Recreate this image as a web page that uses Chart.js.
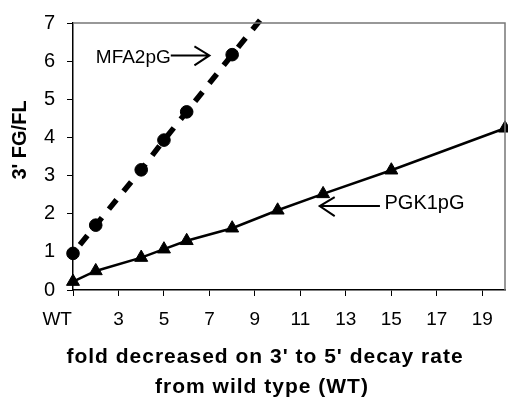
<!DOCTYPE html>
<html>
<head>
<meta charset="utf-8">
<script src="https://cdn.jsdelivr.net/npm/chart.js@4/dist/chart.umd.min.js"></script>
<style>
  html, body { margin: 0; padding: 0; background: #fff; }
  #wrap { width: 508px; height: 398px; }
</style>
</head>
<body>
<div id="wrap"><canvas id="decayChart" width="508" height="398"></canvas></div>
<script>
// ========== DỮ LIỆU ==========
const mfaX = [1, 2, 4, 5, 6, 8, 9.4];
const mfaY = [0.96, 1.7, 3.15, 3.93, 4.67, 6.17, 7.2];
const mfaMarker = [true, true, true, true, true, true, false];

const pgkX = [1, 2, 4, 5, 6, 8, 10, 12, 15, 20];
const pgkY = [0.22, 0.5, 0.85, 1.07, 1.29, 1.62, 2.09, 2.52, 3.14, 4.24];

const xTicks = [1, 3, 5, 7, 9, 11, 13, 15, 17, 19];
const xTickLabels = ['WT      ', '3', '5', '7', '9', '11', '13', '15', '17', '19'];
const yTicks = [0, 1, 2, 3, 4, 5, 6, 7];

const xTitle = ["fold decreased on 3' to 5' decay rate", 'from wild type (WT)'];
const yTitle = "3' FG/FL";

const FONT = '"Liberation Sans", Arial, sans-serif';

// khung, tiêu đề trục, mũi tên + nhãn chú thích
const labelPlugin = {
    id: 'labelPlugin',
    afterDatasetsDraw(chart) {
        const { ctx, scales: { x, y }, chartArea } = chart;
        ctx.save();
        ctx.strokeStyle = '#777';
        ctx.lineWidth = 1.5;
        ctx.beginPath();
        ctx.moveTo(chartArea.left, chartArea.top);
        ctx.lineTo(chartArea.right, chartArea.top);
        ctx.lineTo(chartArea.right, chartArea.bottom);
        ctx.stroke();

        ctx.fillStyle = '#000';
        ctx.strokeStyle = '#000';
        ctx.textBaseline = 'middle';

        function arrow(x0, x1, yv, dir) {
            const px0 = x.getPixelForValue(x0), px1 = x.getPixelForValue(x1), py = y.getPixelForValue(yv);
            ctx.lineWidth = 2;
            ctx.beginPath();
            ctx.moveTo(px0, py);
            ctx.lineTo(px1, py);
            ctx.moveTo(px1 - dir * 15, py - 9);
            ctx.lineTo(px1, py);
            ctx.lineTo(px1 - dir * 15, py + 10);
            ctx.stroke();
        }

        ctx.font = '19px ' + FONT;
        ctx.textAlign = 'right';
        ctx.fillText('MFA2pG', x.getPixelForValue(5.3), y.getPixelForValue(6.1));
        arrow(5.3, 7.0, 6.15, 1);

        ctx.font = '20px ' + FONT;
        ctx.textAlign = 'left';
        ctx.fillText('PGK1pG', x.getPixelForValue(14.7), y.getPixelForValue(2.27));
        arrow(14.5, 11.85, 2.2, -1);

        // tiêu đề trục
        ctx.textAlign = 'center';
        ctx.font = 'bold 21px ' + FONT;
        if ('letterSpacing' in ctx) ctx.letterSpacing = '1px';
        ctx.fillText(xTitle[0], 265, 357);
        ctx.fillText(xTitle[1], 262, 387);
        if ('letterSpacing' in ctx) ctx.letterSpacing = '0px';

        ctx.translate(20, 140);
        ctx.rotate(-Math.PI / 2);
        ctx.font = 'bold 20px ' + FONT;
        ctx.fillText(yTitle, 0, 0);
        ctx.restore();
    }
};

let decayChart = null;

function createDecayChart() {
    const ctx = document.getElementById('decayChart').getContext('2d');
    if (decayChart) decayChart.destroy();

    decayChart = new Chart(ctx, {
        type: 'scatter',
        data: {
            datasets: [
                {
                    label: 'MFA2pG',
                    data: mfaX.map((v, i) => ({ x: v, y: mfaY[i] })),
                    showLine: true,
                    borderColor: '#000',
                    backgroundColor: '#000',
                    borderWidth: 5.5,
                    borderDash: [12, 11],
                    borderDashOffset: 12,
                    pointStyle: 'circle',
                    pointRadius: mfaMarker.map(m => m ? 6.3 : 0),
                    pointBorderWidth: 1,
                    clip: false
                },
                {
                    label: 'PGK1pG',
                    data: pgkX.map((v, i) => ({ x: v, y: pgkY[i] })),
                    showLine: true,
                    borderColor: '#000',
                    backgroundColor: '#000',
                    borderWidth: 2.5,
                    pointStyle: 'triangle',
                    pointRadius: 7.5,
                    pointBorderWidth: 1,
                    clip: false
                }
            ]
        },
        options: {
            responsive: false,
            animation: false,
            layout: { autoPadding: false, padding: { top: 23, right: 3, left: 0, bottom: 0 } },
            plugins: {
                legend: { display: false },
                tooltip: { enabled: false }
            },
            scales: {
                x: {
                    type: 'linear',
                    min: 1,
                    max: 20,
                    afterBuildTicks: axis => { axis.ticks = xTicks.map(v => ({ value: v })); },
                    afterFit: axis => { axis.height = 108; axis.paddingLeft = 0; axis.paddingRight = 0; },
                    ticks: {
                        color: '#000',
                        font: { family: FONT, size: 19 },
                        padding: 12,
                        maxRotation: 0,
                        autoSkip: false,
                        callback: (value, index) => xTickLabels[index]
                    },
                    grid: { drawOnChartArea: false, drawTicks: true, tickLength: 6, color: '#000' },
                    border: { display: true, color: '#000', width: 1.5 },
                    title: { display: false }
                },
                y: {
                    type: 'linear',
                    min: 0,
                    max: 7,
                    afterBuildTicks: axis => { axis.ticks = yTicks.map(v => ({ value: v })); },
                    afterFit: axis => { axis.width = 73; axis.paddingTop = 0; axis.paddingBottom = 0; },
                    ticks: {
                        color: '#000',
                        font: { family: FONT, size: 20 },
                        padding: 12
                    },
                    grid: { drawOnChartArea: false, drawTicks: true, tickLength: 6, color: '#000' },
                    border: { display: true, color: '#000', width: 1.5 },
                    title: { display: false }
                }
            }
        },
        plugins: [labelPlugin]
    });
}

createDecayChart();
</script>
</body>
</html>
